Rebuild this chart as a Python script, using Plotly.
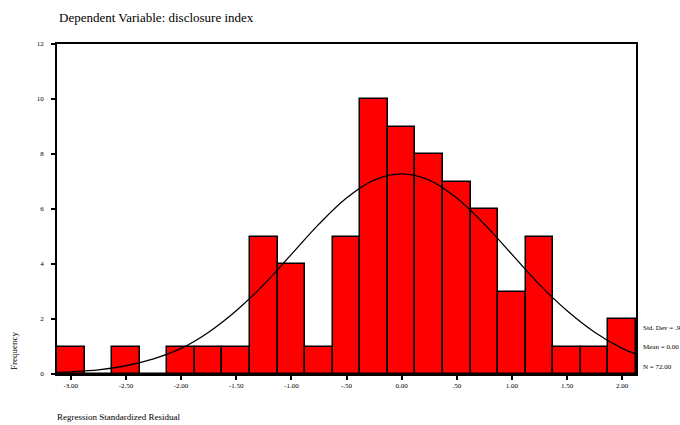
import plotly.graph_objects as go

# Histogram bins (centres) and frequencies
bin_centers = [-3.00, -2.75, -2.50, -2.25, -2.00, -1.75, -1.50, -1.25, -1.00, -0.75,
               -0.50, -0.25, 0.00, 0.25, 0.50, 0.75, 1.00, 1.25, 1.50, 1.75, 2.00]
frequencies = [1, 0, 1, 0, 1, 1, 1, 5, 4, 1,
               5, 10, 9, 8, 7, 6, 3, 5, 1, 1, 2]

# Normal curve
curve_x = [-3.125, -3.00, -2.75, -2.50, -2.25, -2.00, -1.75, -1.50, -1.25, -1.00, -0.75,
           -0.50, -0.25, 0.00, 0.25, 0.50, 0.75, 1.00, 1.25, 1.50, 1.75, 2.00, 2.125]
curve_y = [0.06, 0.08, 0.15, 0.30, 0.55, 0.93, 1.52, 2.30, 3.25, 4.35, 5.45,
           6.40, 7.05, 7.28, 7.05, 6.40, 5.45, 4.35, 3.25, 2.30, 1.52, 0.93, 0.72]

x_tickvals = [-3.0, -2.5, -2.0, -1.5, -1.0, -0.5, 0.0, 0.5, 1.0, 1.5, 2.0]
x_ticktext = ["-3.00", "-2.50", "-2.00", "-1.50", "-1.00", "-.50", "0.00", ".50", "1.00", "1.50", "2.00"]
y_tickvals = [0, 2, 4, 6, 8, 10, 12]

stats_text = ["Std. Dev = .9", "Mean = 0.00", "N = 72.00"]

SERIF = "Liberation Serif, Times New Roman, serif"

fig = go.Figure()
fig.add_trace(go.Bar(
    x=bin_centers, y=frequencies, width=0.25,
    marker=dict(color="#FF0000", line=dict(color="black", width=1.5)),
    showlegend=False, hoverinfo="x+y",
))
fig.add_trace(go.Scatter(
    x=curve_x, y=curve_y, mode="lines",
    line=dict(color="black", width=1.3, shape="spline", smoothing=1.0),
    showlegend=False, hoverinfo="skip",
))

fig.update_layout(
    width=680, height=425,
    margin=dict(l=57, r=44, t=44, b=51),
    paper_bgcolor="white", plot_bgcolor="white",
    bargap=0,
    font=dict(family=SERIF, color="black", size=7),
    xaxis=dict(range=[-3.125, 2.125], tickvals=x_tickvals, ticktext=x_ticktext,
               showgrid=False, zeroline=False, showline=True, mirror=True,
               linecolor="black", linewidth=1.5, ticks="outside", ticklen=4,
               tickwidth=2, tickcolor="black", tickfont=dict(size=7, family=SERIF)),
    yaxis=dict(range=[0, 12], tickvals=y_tickvals,
               showgrid=False, zeroline=False, showline=True, mirror=True,
               linecolor="black", linewidth=1.5, ticks="outside", ticklen=4,
               tickwidth=2, tickcolor="black", ticklabelstandoff=6,
               tickfont=dict(size=7, family=SERIF)),
)

ann = []
ann.append(dict(text="Dependent Variable: disclosure index", xref="paper", yref="paper",
                x=0, y=(374 - 17) / 330, xanchor="left", yanchor="middle",
                showarrow=False, font=dict(size=13, family=SERIF)))
ann.append(dict(text="Frequency", xref="paper", yref="paper",
                x=(14 - 57) / 579, y=(374 - 372) / 330, textangle=-90,
                xanchor="center", yanchor="bottom", showarrow=False,
                font=dict(size=9, family=SERIF)))
ann.append(dict(text="Regression Standardized Residual", xref="paper", yref="paper",
                x=(55 - 57) / 579, y=(374 - 417) / 330, xanchor="left", yanchor="middle",
                showarrow=False, font=dict(size=9, family=SERIF)))
for i, t in enumerate(stats_text):
    ypx = [328, 347, 367][i]
    ann.append(dict(text=t, xref="paper", yref="paper",
                    x=(641 - 57) / 579, y=(374 - ypx) / 330, xanchor="left", yanchor="middle",
                    showarrow=False, font=dict(size=7, family=SERIF)))
fig.update_layout(annotations=ann)

fig.write_html("out.html", config={"displayModeBar": False},
               post_script="document.body.style.margin='0px';document.body.style.padding='0px';")
